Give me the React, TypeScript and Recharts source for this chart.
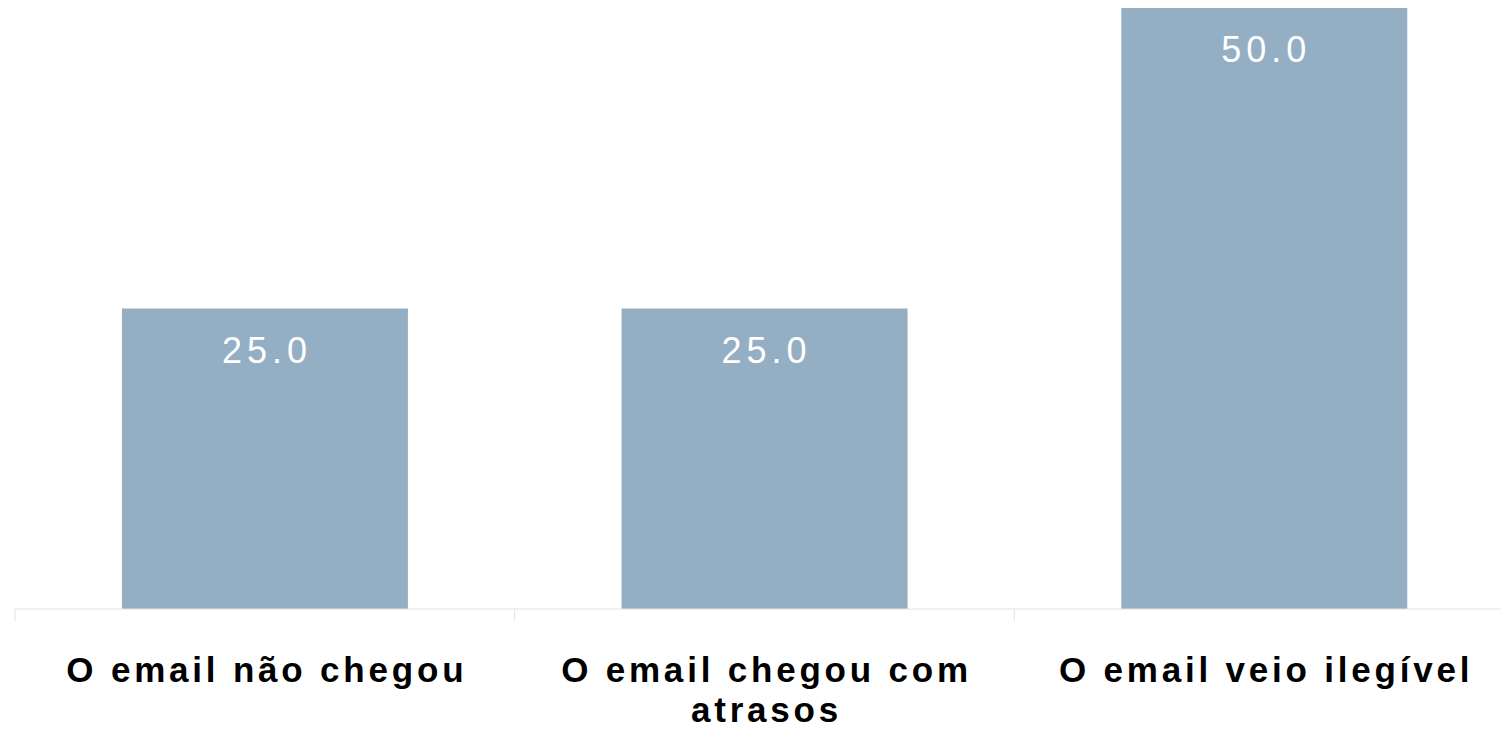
import React from "react";
import { Bar, BarChart, LabelList, XAxis, YAxis } from "recharts";

const categories = ["O email não chegou", "O email chegou com atrasos", "O email veio ilegível"];
const values = [25.0, 25.0, 50.0];

const data = categories.map((name, i) => ({ name, value: values[i] }));

const W = 1530;
const H = 737;
const M = { top: 8, right: 16, left: 15, bottom: 0 };
const BAND = (W - M.left - M.right) / categories.length;
const FONT = "'Liberation Sans', Arial, sans-serif";
const TICK_FONT = `bold 35px ${FONT}`;
const TICK_LS = 3.8;

let ctx: CanvasRenderingContext2D | null = null;
function measure(s: string) {
  if (!ctx) ctx = document.createElement("canvas").getContext("2d");
  if (!ctx) return s.length * 22;
  ctx.font = TICK_FONT;
  (ctx as any).letterSpacing = `${TICK_LS}px`;
  return ctx.measureText(s).width;
}

function wrap(s: string, maxW: number) {
  const lines: string[] = [];
  let cur = "";
  for (const w of s.split(" ")) {
    const next = cur ? cur + " " + w : w;
    if (cur && measure(next) > maxW) {
      lines.push(cur);
      cur = w;
    } else cur = next;
  }
  if (cur) lines.push(cur);
  return lines;
}

function CategoryTick(props: any) {
  const { x, y, payload, index } = props;
  const lines = wrap(String(payload.value), BAND - 20);
  return (
    <g>
      <line x1={x - BAND / 2} x2={x - BAND / 2} y1={y} y2={y + 12} stroke="#e3e3e3" />
      {index === categories.length - 1 && (
        <line x1={x + BAND / 2} x2={x + BAND / 2} y1={y} y2={y + 12} stroke="#e3e3e3" />
      )}
      <text
        x={x}
        y={y + 73}
        textAnchor="middle"
        fill="#000"
        fontSize={35}
        fontWeight="bold"
        fontFamily={FONT}
        letterSpacing={TICK_LS}
      >
        {lines.map((l, i) => (
          <tspan key={i} x={x + 2} dy={i === 0 ? 0 : 40}>
            {l}
          </tspan>
        ))}
      </text>
    </g>
  );
}

function ValueLabel(props: any) {
  const { x, y, width, value } = props;
  return (
    <text
      x={x + width / 2 + 2}
      y={y + 54}
      textAnchor="middle"
      fill="#fff"
      fontSize={36}
      fontFamily={FONT}
      letterSpacing={5}
    >
      {Number(value).toFixed(1)}
    </text>
  );
}

export default function App() {
  return (
    <div style={{ position: "absolute", left: 0, top: 0, width: 1501, height: H, overflow: "hidden", background: "#fff" }}>
      <BarChart width={W} height={H} data={data} margin={M} barCategoryGap="21.4%">
        <XAxis
          dataKey="name"
          axisLine={{ stroke: "#e3e3e3" }}
          tickLine={false}
          tickSize={0}
          tickMargin={0}
          height={128}
          interval={0}
          tick={<CategoryTick />}
        />
        <YAxis hide domain={[0, 50]} />
        <Bar dataKey="value" fill="#94aec4" isAnimationActive={false}>
          <LabelList dataKey="value" content={<ValueLabel />} />
        </Bar>
      </BarChart>
    </div>
  );
}
